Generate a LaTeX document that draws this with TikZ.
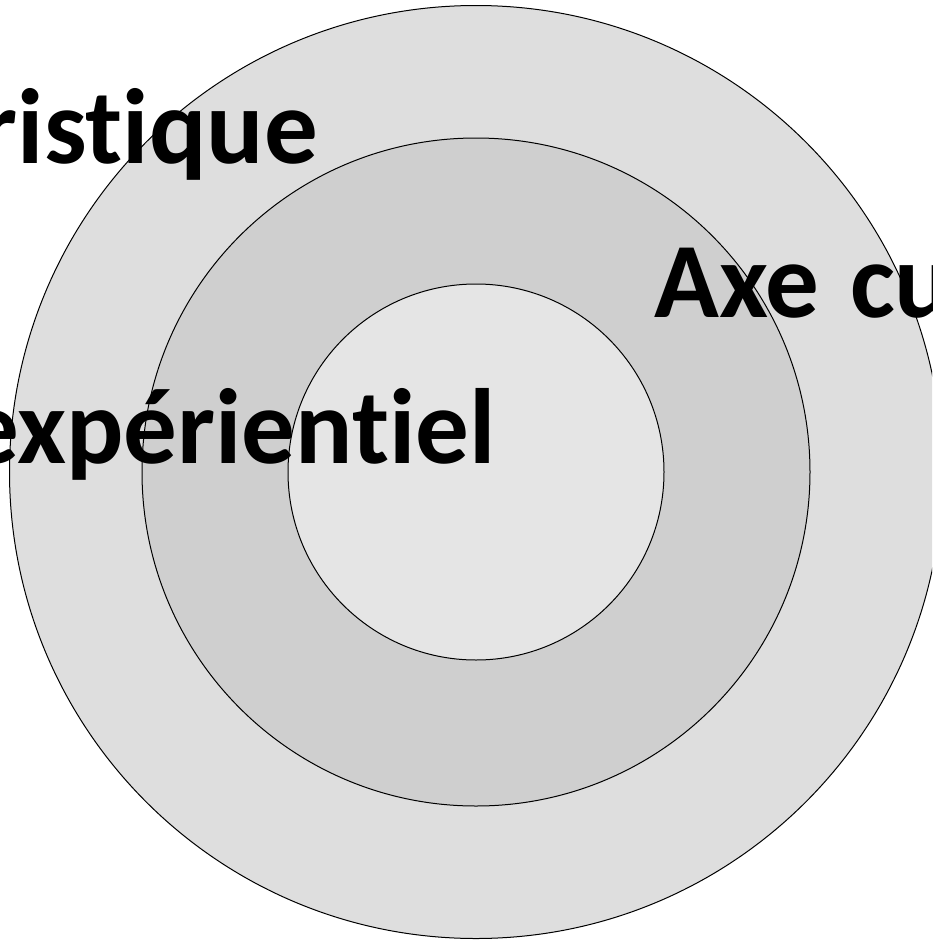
\documentclass[tikz,border=0pt]{standalone}
\usepackage{fontspec}
\setmainfont{Carlito}[Ligatures={NoCommon}]
\usepackage{tikz}
\usetikzlibrary{positioning}
\definecolor{ring-outer}{RGB}{222,222,222}
\definecolor{ring-middle}{RGB}{207,207,207}
\definecolor{ring-inner}{RGB}{229,229,229}
\tikzset{%
    ring/.style={%
        circle,
        draw=black,
        line width=1pt,
        inner sep=0pt,
    },
    axis/.style={%
        inner sep=0pt,
        font=\fontsize{107}{120}\selectfont\bfseries,
        text=black,
    },
}

\begin{document}
\begin{tikzpicture}[x=1pt, y=-1pt]
  \useasboundingbox (0, 0) rectangle (932, 940);
  \clip (0, 0) rectangle (932, 940);
  \coordinate (center) at (476, 472);

  \node [ring, fill=ring-outer, minimum size=933pt] at (center) (outer) {};
  \node [ring, fill=ring-middle, minimum size=668pt] at (center) (middle) {};
  \node [ring, fill=ring-inner, minimum size=376pt] at (center) (inner) {};

  \node [axis, anchor=base east] at (318, 163) (heuristic) {ristique};
  \node [axis, anchor=base east] at (496, 463) (experiential) {expérientiel};
  \node [axis, anchor=base west] at (654, 317) (cultural) {Axe\hspace{0.06em} cu};
\end{tikzpicture}
\end{document}
